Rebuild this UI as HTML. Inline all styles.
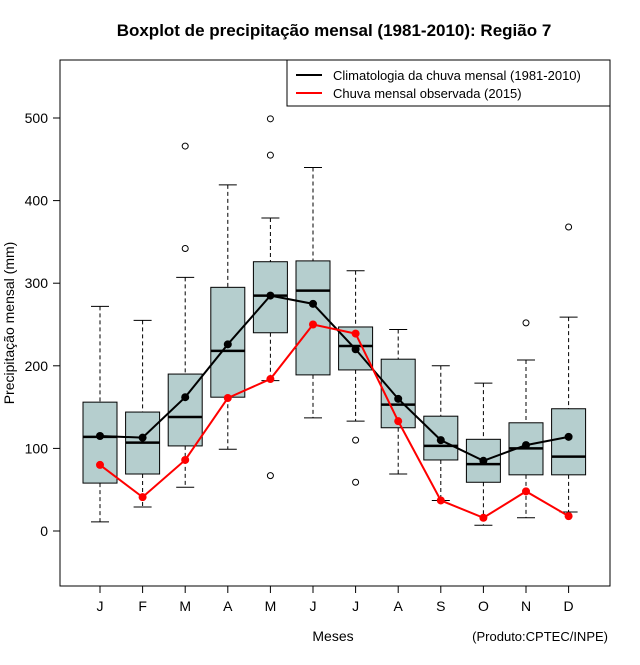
<!DOCTYPE html>
<html><head><meta charset="utf-8"><style>
body{margin:0;background:#fff}
svg text{font-family:"Liberation Sans",Arial,sans-serif}
</style></head><body>
<svg id="chart" width="640" height="660" xmlns="http://www.w3.org/2000/svg">
<rect width="640" height="660" fill="#fff"/>
<text x="334" y="36" text-anchor="middle" font-size="17" font-weight="bold">Boxplot de precipitação mensal (1981-2010): Região 7</text>
<rect x="60" y="60" width="550" height="526" fill="none" stroke="#000"/>
<text x="333" y="641" text-anchor="middle" font-size="14">Meses</text>
<text x="608" y="641" text-anchor="end" font-size="13">(Produto:CPTEC/INPE)</text>
<text transform="translate(14,323) rotate(-90)" text-anchor="middle" font-size="14">Precipitação mensal (mm)</text>
<g id="axes"></g><g id="boxes"></g><g id="lines"></g>
<g>
<rect x="287" y="60" width="323" height="46" fill="#fff" stroke="#000"/>
<line x1="296" y1="75" x2="322" y2="75" stroke="#000" stroke-width="2"/>
<text x="333" y="80" font-size="13">Climatologia da chuva mensal (1981-2010)</text>
<line x1="296" y1="93" x2="322" y2="93" stroke="#f00" stroke-width="2"/>
<text x="333" y="98" font-size="13">Chuva mensal observada (2015)</text>
</g>
</svg>
<script>
const months=["J","F","M","A","M","J","J","A","S","O","N","D"];
const wLow=[11,29,53,99,182,137,133,69,37,7,16,23];
const q1=[58,69,103,162,240,189,195,125,86,59,68,68];
const med=[114,107,138,218,285,291,224,153,103,81,100,90];
const q3=[156,144,190,295,326,327,247,208,139,111,131,148];
const wHigh=[272,255,307,419,379,440,315,244,200,179,207,259];
const outliers=[[],[],[466,342],[],[499,455,67],[],[110,59],[],[],[],[252],[368]];
const climMean=[115,113,162,226,285,275,220,160,110,85,104,114];
const obs2015=[80,41,86,161,184,250,239,133,37,16,48,18];
const yTicks=[0,100,200,300,400,500];
const NS="http://www.w3.org/2000/svg";
const X=i=>100+i*42.6;
const Y=v=>531-v*0.826;
function mk(p,tag,at){const e=document.createElementNS(NS,tag);for(const k in at)e.setAttribute(k,at[k]);p.appendChild(e);return e;}
const ax=document.getElementById('axes'),bx=document.getElementById('boxes'),ln=document.getElementById('lines');
mk(ax,'line',{x1:60,y1:Y(0),x2:60,y2:Y(500),stroke:'#000'});
yTicks.forEach(t=>{
 const l=mk(ax,'line',{x1:53,y1:Y(t),x2:60,y2:Y(t),stroke:'#000'});
 
 
 const tx=mk(ax,'text',{x:48,y:Y(t)+5,'text-anchor':'end','font-size':14});tx.textContent=t;
 
 
});
mk(ax,'line',{x1:X(0),y1:586,x2:X(11),y2:586,stroke:'#000'});
months.forEach((m,i)=>{
 mk(ax,'line',{x1:X(i),y1:586,x2:X(i),y2:593,stroke:'#000'});
 const tx=mk(ax,'text',{x:X(i),y:611,'text-anchor':'middle','font-size':14});tx.textContent=m;
 
 
 const g=mk(bx,'g',{});
 
 
 const x=X(i);
 mk(g,'line',{x1:x,y1:Y(wHigh[i]),x2:x,y2:Y(q3[i]),stroke:'#000','stroke-dasharray':'4,3'});
 mk(g,'line',{x1:x,y1:Y(q1[i]),x2:x,y2:Y(wLow[i]),stroke:'#000','stroke-dasharray':'4,3'});
 mk(g,'line',{x1:x-9,y1:Y(wHigh[i]),x2:x+9,y2:Y(wHigh[i]),stroke:'#000'});
 mk(g,'line',{x1:x-9,y1:Y(wLow[i]),x2:x+9,y2:Y(wLow[i]),stroke:'#000'});
 mk(g,'rect',{x:x-17,y:Y(q3[i]),width:34,height:Y(q1[i])-Y(q3[i]),fill:'#b5cece',stroke:'#000'});
 mk(g,'line',{x1:x-17,y1:Y(med[i]),x2:x+17,y2:Y(med[i]),stroke:'#000','stroke-width':2.5});
 outliers[i].forEach(o=>{const c=mk(g,'circle',{cx:x,cy:Y(o),r:3,fill:'none',stroke:'#000'});
  
  });
});
function series(vals,col,name){
 const p=mk(ln,'polyline',{points:vals.map((v,i)=>X(i)+','+Y(v)).join(' '),fill:'none',stroke:col,'stroke-width':2});
 
 
 vals.forEach((v,i)=>{const c=mk(ln,'circle',{cx:X(i),cy:Y(v),r:4,fill:col});
  
  });
}
series(climMean,'#000','climatology');
series(obs2015,'#f00','observed-2015');
</script>
</body></html>
